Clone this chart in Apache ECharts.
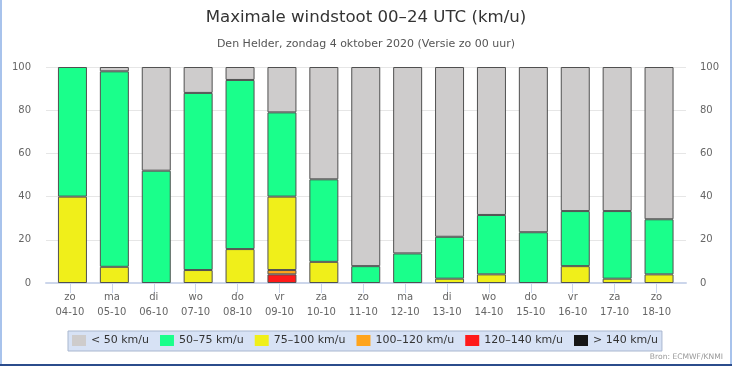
<!DOCTYPE html>
<html>
<head>
<meta charset="utf-8">
<script src="https://cdn.jsdelivr.net/npm/echarts@6/dist/echarts.min.js"></script>
<style>
html,body{margin:0;padding:0;background:#fff;}
#wrap{position:relative;width:732px;height:366px;overflow:hidden;}
#chart{position:absolute;left:0;top:0;width:732px;height:366px;}
.b{position:absolute;pointer-events:none;}
</style>
</head>
<body>
<div id="wrap">
<div id="chart"></div>
<div class="b" style="left:0;top:0;width:2px;height:366px;background:#a8c3ec;"></div>
<div class="b" style="right:0;top:0;width:2px;height:366px;background:#a8c3ec;"></div>
<div class="b" style="left:0;bottom:0;width:732px;height:2px;background:#2b4c8c;"></div>
</div>
<script>
// Categories
const days = ['zo','ma','di','wo','do','vr','za','zo','ma','di','wo','do','vr','za','zo'];
const dates = ['04-10','05-10','06-10','07-10','08-10','09-10','10-10','11-10','12-10','13-10','14-10','15-10','16-10','17-10','18-10'];
// Series values (percent of ensemble members per class)
const lt50   = [null, 2, 48, 12, 6, 21, 52, 92.2, 86.3, 78.6, 68.5, 76.5, 66.7, 66.7, 70.5];
const k50_75 = [60, 90.5, 52, 82, 78.3, 39, 38.2, 7.8, 13.7, 19.4, 27.5, 23.5, 25.5, 31.3, 25.5];
const k75_100 = [40, 7.5, null, 6, 15.7, 34, 9.8, null, null, 2, 4, null, 7.8, 2, 4];
const k100_120 = [null, null, null, null, null, 2, null, null, null, null, null, null, null, null, null];
const k120_140 = [null, null, null, null, null, 4, null, null, null, null, null, null, null, null, null];
const gt140  = [null, null, null, null, null, null, null, null, null, null, null, null, null, null, null];
// Tick labels
const yTicks = [0, 20, 40, 60, 80, 100];
const legendNames = ['< 50 km/u', '50–75 km/u', '75–100 km/u', '100–120 km/u', '120–140 km/u', '> 140 km/u'];

const cats = days.map((d, i) => d + '\n' + dates[i]);
const FONT = 'DejaVu Sans';
const colors = {
  '< 50 km/u': '#cecccc',
  '50–75 km/u': '#1aff8b',
  '75–100 km/u': '#f0ef1a',
  '100–120 km/u': '#ffa41c',
  '120–140 km/u': '#ff1a1a',
  '> 140 km/u': '#161616'
};

function bar(name, data) {
  return {
    name: name, type: 'bar', stack: 'w', data: data,
    xAxisIndex: 1, yAxisIndex: 2, barWidth: 29,
    itemStyle: { color: colors[name], borderColor: '#505050', borderWidth: 1 },
    emphasis: { disabled: true }
  };
}

const chart = echarts.init(document.getElementById('chart'), null, { renderer: 'canvas' });
chart.setOption({
  animation: false,
  backgroundColor: '#ffffff',
  title: [
    { text: 'Maximale windstoot 00–24 UTC (km/u)', left: 'center', top: 4,
      textStyle: { fontFamily: FONT, fontSize: 16.6, fontWeight: 'normal', color: '#333333' } },
    { text: 'Den Helder, zondag 4 oktober 2020 (Versie zo 00 uur)', left: 'center', top: 34,
      textStyle: { fontFamily: FONT, fontSize: 11, fontWeight: 'normal', color: '#555555' } }
  ],
  legend: {
    data: legendNames,
    left: 68, top: 331,
    padding: [4, 4, 5, 4],
    itemWidth: 14, itemHeight: 11, itemGap: 11,
    icon: 'rect',
    backgroundColor: '#d7e2f5',
    borderColor: '#a9b7cf', borderWidth: 1,
    itemStyle: { borderWidth: 0 },
    textStyle: { fontFamily: FONT, fontSize: 11, color: '#333333' },
    selectedMode: false
  },
  graphic: [
    { type: 'text', right: 9, top: 353,
      style: { text: 'Bron: ECMWF/KNMI', fontFamily: FONT, fontSize: 7.6, fill: '#999999' } }
  ],
  grid: [
    { left: 46, right: 46, top: 67, bottom: 83 },
    { left: 51.5, right: 52, top: 67, bottom: 83 },
    { left: 49, right: 54.5, top: 67, bottom: 83 }
  ],
  xAxis: [
    { type: 'category', gridIndex: 0, data: cats,
      axisLine: { show: true, lineStyle: { color: '#ccd6eb', width: 2 } },
      axisTick: { show: false }, axisLabel: { show: false }, splitLine: { show: false } },
    { type: 'category', gridIndex: 1, data: cats,
      axisLine: { show: false }, axisTick: { show: false }, axisLabel: { show: false } },
    { type: 'category', gridIndex: 2, data: cats,
      axisLine: { show: false },
      axisTick: { show: true, alignWithLabel: true, length: 10, lineStyle: { color: '#ccd6eb', width: 1 } },
      axisLabel: { show: true, interval: 0, margin: 7, lineHeight: 15,
        fontFamily: FONT, fontSize: 10, color: '#666666' } }
  ],
  yAxis: [
    { type: 'value', gridIndex: 0, min: yTicks[0], max: yTicks[yTicks.length - 1], interval: 20, position: 'left',
      axisLine: { show: false }, axisTick: { show: false },
      axisLabel: { margin: 15, fontFamily: FONT, fontSize: 10, color: '#666666' },
      splitLine: { show: true, lineStyle: { color: '#e6e6e6', width: 1 } } },
    { type: 'value', gridIndex: 0, min: yTicks[0], max: yTicks[yTicks.length - 1], interval: 20, position: 'right',
      axisLine: { show: false }, axisTick: { show: false },
      axisLabel: { margin: 14, fontFamily: FONT, fontSize: 10, color: '#666666' },
      splitLine: { show: false } },
    { type: 'value', gridIndex: 1, min: 0, max: 100, show: false },
    { type: 'value', gridIndex: 2, min: 0, max: 100, show: false }
  ],
  series: [
    bar('> 140 km/u', gt140),
    bar('120–140 km/u', k120_140),
    bar('100–120 km/u', k100_120),
    bar('75–100 km/u', k75_100),
    bar('50–75 km/u', k50_75),
    bar('< 50 km/u', lt50)
  ]
});
</script>
</body>
</html>
